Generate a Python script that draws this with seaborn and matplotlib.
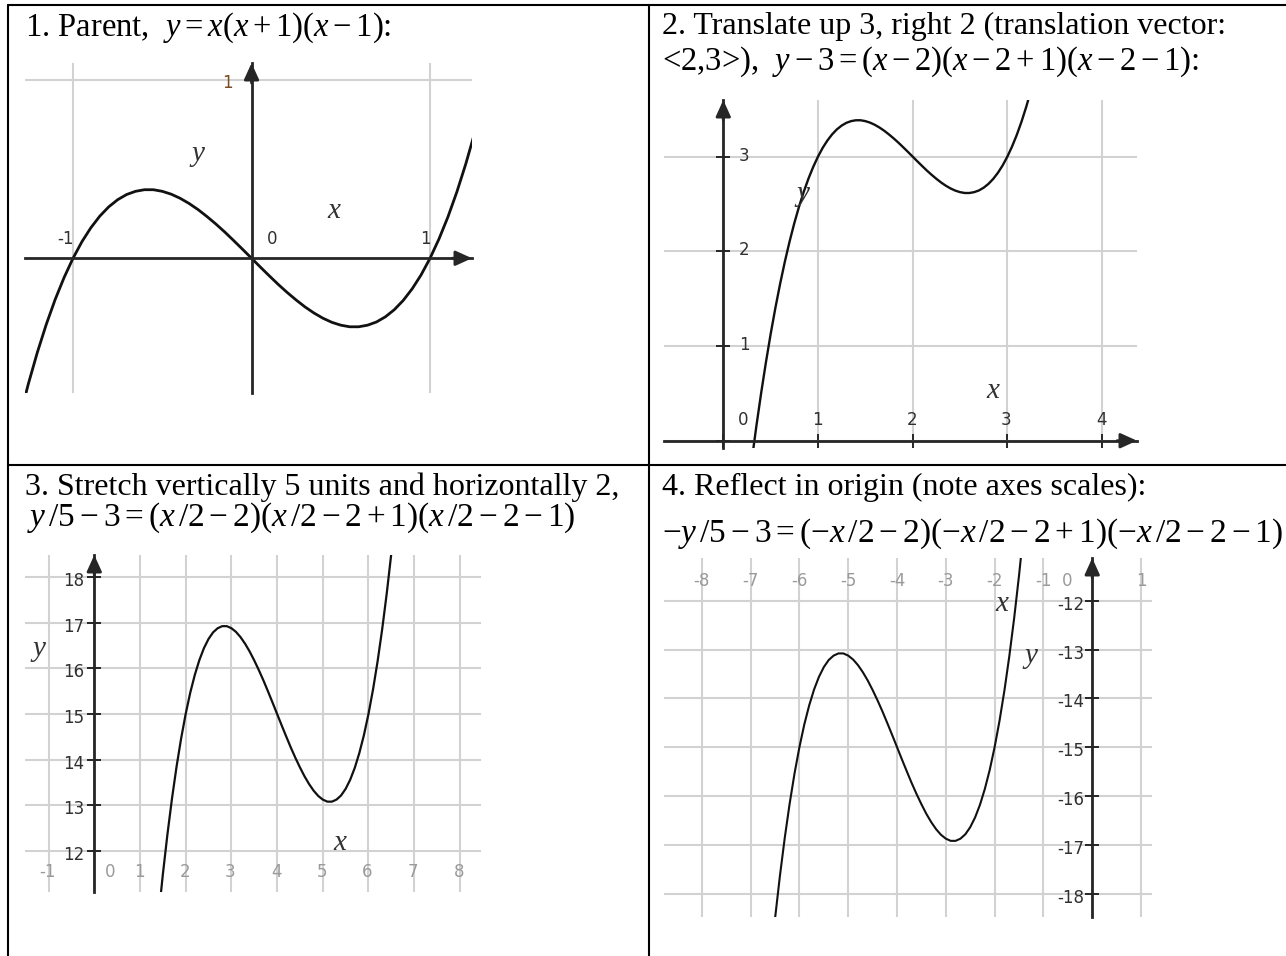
import matplotlib
matplotlib.use("Agg")
import matplotlib.pyplot as plt
import matplotlib.transforms as mtransforms
from matplotlib.lines import Line2D
import seaborn as sns

W, H = 1286, 956

# ---- values ----
# 1. parent cubic
p1_x = [-1.3, -1.25, -1.2, -1.15, -1.1, -1.05, -1.0, -0.95, -0.9, -0.85, -0.8, -0.75, -0.7,
        -0.65, -0.6, -0.55, -0.5, -0.45, -0.4, -0.35, -0.3, -0.25, -0.2, -0.15, -0.1, -0.05,
        0.0, 0.05, 0.1, 0.15, 0.2, 0.25, 0.3, 0.35, 0.4, 0.45, 0.5, 0.55, 0.6, 0.65, 0.7,
        0.75, 0.8, 0.85, 0.9, 0.95, 1.0, 1.05, 1.1, 1.15, 1.2, 1.25, 1.3]
p1_y = [-0.897, -0.703, -0.528, -0.371, -0.231, -0.108, 0.0, 0.093, 0.171, 0.236, 0.288, 0.328,
        0.357, 0.375, 0.384, 0.384, 0.375, 0.359, 0.336, 0.307, 0.273, 0.234, 0.192, 0.147, 0.099,
        0.050, 0.0, -0.050, -0.099, -0.147, -0.192, -0.234, -0.273, -0.307, -0.336, -0.359, -0.375,
        -0.384, -0.384, -0.375, -0.357, -0.328, -0.288, -0.236, -0.171, -0.093, 0.0, 0.108, 0.231,
        0.371, 0.528, 0.703, 0.897]

# 2. translated
p2_x = [0.3, 0.35, 0.4, 0.45, 0.5, 0.55, 0.6, 0.65, 0.7, 0.75, 0.8, 0.85, 0.9, 0.95, 1.0,
        1.05, 1.1, 1.15, 1.2, 1.25, 1.3, 1.35, 1.4, 1.45, 1.5, 1.55, 1.6, 1.65, 1.7, 1.75, 1.8,
        1.85, 1.9, 1.95, 2.0, 2.05, 2.1, 2.15, 2.2, 2.25, 2.3, 2.35, 2.4, 2.45, 2.5, 2.55, 2.6,
        2.65, 2.7, 2.75, 2.8, 2.85, 2.9, 2.95, 3.0, 3.05, 3.1, 3.15, 3.2, 3.25, 3.3]
p2_y = [-0.213, 0.158, 0.504, 0.826, 1.125, 1.401, 1.656, 1.890, 2.103, 2.297, 2.472, 2.629,
        2.769, 2.892, 3.0, 3.093, 3.171, 3.236, 3.288, 3.328, 3.357, 3.375, 3.384, 3.384, 3.375,
        3.359, 3.336, 3.307, 3.273, 3.234, 3.192, 3.147, 3.099, 3.050, 3.0, 2.950, 2.901, 2.853,
        2.808, 2.766, 2.727, 2.693, 2.664, 2.641, 2.625, 2.616, 2.616, 2.625, 2.643, 2.672, 2.712,
        2.764, 2.829, 2.907, 3.0, 3.108, 3.231, 3.371, 3.528, 3.703, 3.897]

# 3. stretched
p3_x = [1.2, 1.3, 1.4, 1.5, 1.6, 1.7, 1.8, 1.9, 2.0, 2.1, 2.2, 2.3, 2.4, 2.5, 2.6, 2.7, 2.8,
        2.9, 3.0, 3.1, 3.2, 3.3, 3.4, 3.5, 3.6, 3.7, 3.8, 3.9, 4.0, 4.1, 4.2, 4.3, 4.4, 4.5, 4.6,
        4.7, 4.8, 4.9, 5.0, 5.1, 5.2, 5.3, 5.4, 5.5, 5.6, 5.7, 5.8, 5.9, 6.0, 6.1, 6.2, 6.3, 6.4,
        6.5, 6.6]
p3_y = [8.28, 9.45, 10.515, 11.485, 12.36, 13.145, 13.845, 14.462, 15.0, 15.465, 15.855, 16.18,
        16.44, 16.64, 16.785, 16.875, 16.92, 16.92, 16.875, 16.795, 16.68, 16.535, 16.365, 16.17,
        15.96, 15.735, 15.495, 15.25, 15.0, 14.75, 14.505, 14.265, 14.04, 13.83, 13.635, 13.465,
        13.32, 13.205, 13.125, 13.08, 13.08, 13.125, 13.215, 13.36, 13.56, 13.82, 14.145, 14.535,
        15.0, 15.538, 16.155, 16.855, 17.64, 18.515, 19.485]

# 4. reflected in origin
p4_x = [-1.2, -1.3, -1.4, -1.5, -1.6, -1.7, -1.8, -1.9, -2.0, -2.1, -2.2, -2.3, -2.4, -2.5,
        -2.6, -2.7, -2.8, -2.9, -3.0, -3.1, -3.2, -3.3, -3.4, -3.5, -3.6, -3.7, -3.8, -3.9, -4.0,
        -4.1, -4.2, -4.3, -4.4, -4.5, -4.6, -4.7, -4.8, -4.9, -5.0, -5.1, -5.2, -5.3, -5.4, -5.5,
        -5.6, -5.7, -5.8, -5.9, -6.0, -6.1, -6.2, -6.3, -6.4, -6.5, -6.6]
p4_y = [-8.28, -9.45, -10.515, -11.485, -12.36, -13.145, -13.845, -14.462, -15.0, -15.465,
        -15.855, -16.18, -16.44, -16.64, -16.785, -16.875, -16.92, -16.92, -16.875, -16.795,
        -16.68, -16.535, -16.365, -16.17, -15.96, -15.735, -15.495, -15.25, -15.0, -14.75,
        -14.505, -14.265, -14.04, -13.83, -13.635, -13.465, -13.32, -13.205, -13.125, -13.08,
        -13.08, -13.125, -13.215, -13.36, -13.56, -13.82, -14.145, -14.535, -15.0, -15.538,
        -16.155, -16.855, -17.64, -18.515, -19.485]

# grid / tick values and their labels
p1_xgrid, p1_ygrid = [-1, 1], [1]
p1_xticks, p1_xlabels = [-1, 1], ["-1", "1"]
p1_yticks, p1_ylabels = [1], ["1"]

p2_xgrid, p2_ygrid = [0, 1, 2, 3, 4], [0, 1, 2, 3]
p2_xticks, p2_xlabels = [1, 2, 3, 4], ["1", "2", "3", "4"]
p2_yticks, p2_ylabels = [1, 2, 3], ["1", "2", "3"]

p3_xgrid, p3_ygrid = [-1, 0, 1, 2, 3, 4, 5, 6, 7, 8], [12, 13, 14, 15, 16, 17, 18]
p3_xticks, p3_xlabels = [-1, 1, 2, 3, 4, 5, 6, 7, 8], ["-1", "1", "2", "3", "4", "5", "6", "7", "8"]
p3_yticks, p3_ylabels = [12, 13, 14, 15, 16, 17, 18], ["12", "13", "14", "15", "16", "17", "18"]

p4_xgrid, p4_ygrid = [-8, -7, -6, -5, -4, -3, -2, -1, 0, 1], [-18, -17, -16, -15, -14, -13, -12]
p4_xticks, p4_xlabels = [-8, -7, -6, -5, -4, -3, -2, -1, 1], ["-8", "-7", "-6", "-5", "-4", "-3", "-2", "-1", "1"]
p4_yticks, p4_ylabels = [-18, -17, -16, -15, -14, -13, -12], ["-18", "-17", "-16", "-15", "-14", "-13", "-12"]

# ---- style ----
sns.set_style("white")
plt.rcParams["font.family"] = ["Liberation Serif", "DejaVu Serif"]
plt.rcParams["mathtext.fontset"] = "custom"
plt.rcParams["mathtext.rm"] = "Liberation Serif"
plt.rcParams["mathtext.it"] = "Liberation Serif:italic"

GRID = "#d2d2d2"
AXIS = "#262626"
DARK = "#303030"
LIGHT = "#9a9a9a"
TICK_FONT = dict(family="DejaVu Sans", fontsize=12)

fig = plt.figure(figsize=(W / 100, H / 100), dpi=100)


def add_panel(box, xlim, ylim):
    # box = left, top, right, bottom in pixels
    l, t, r, b = box
    ax = fig.add_axes([l / W, 1 - b / H, (r - l) / W, (b - t) / H])
    ax.set_xlim(xlim)
    ax.set_ylim(ylim)
    ax.patch.set_alpha(0)
    return ax


def style_axes(ax, xgrid, ygrid, show_x, tick_len):
    ax.set_xticks(xgrid)
    ax.set_yticks(ygrid)
    ax.grid(True, color=GRID, lw=1.5)
    ax.set_axisbelow(True)
    for side in ["top", "right"]:
        ax.spines[side].set_visible(False)
    for side in ["left", "bottom"]:
        ax.spines[side].set_position(("data", 0))
        ax.spines[side].set_color(AXIS)
        ax.spines[side].set_linewidth(2.0)
    ax.spines["bottom"].set_visible(show_x)
    ax.tick_params(direction="inout", length=tick_len, width=1.4, color=AXIS,
                   bottom=show_x, left=True, labelleft=False, labelbottom=False)
    # arrow heads
    arrow = dict(arrowstyle="-|>,head_length=0.55,head_width=0.25", mutation_scale=18,
                 color=AXIS, lw=2.0, shrinkA=0, shrinkB=0)
    ax.annotate("", xy=(0, 1), xycoords=ax.get_xaxis_transform(), xytext=(0, -20),
                textcoords="offset pixels", arrowprops=arrow, annotation_clip=False)
    if show_x:
        ax.annotate("", xy=(1, 0), xycoords=ax.get_yaxis_transform(), xytext=(-20, 0),
                    textcoords="offset pixels", arrowprops=arrow, annotation_clip=False)


def tick_text(ax, xs, ys, labels, dx, dy, ha="center", color=DARK):
    tr = mtransforms.offset_copy(ax.transData, fig=fig, x=dx, y=-dy, units="dots")
    for x, y, s in zip(xs, ys, labels):
        ax.text(x, y, s, transform=tr, ha=ha, va="center", color=color, clip_on=False, **TICK_FONT)


def curve(ax, xs, ys, lw):
    sns.lineplot(x=xs, y=ys, ax=ax, color="#111111", lw=lw, sort=False, estimator=None)
    ax.set_xlabel("")
    ax.set_ylabel("")


def axis_letters(ax, box, xpos, ypos):
    # stray "x" / "y" labels, positions in pixels
    l, t, r, b = box
    for s, (px, py) in [("x", xpos), ("y", ypos)]:
        ax.text((px - l) / (r - l), (b - py) / (b - t), s, transform=ax.transAxes,
                style="italic", fontsize=21, color="#333333", ha="center", va="center")


# ---- panel 1 ----
box1 = (25, 63, 472, 393)
ax1 = add_panel(box1, (-1.269, 1.235), (-0.755, 1.094))
style_axes(ax1, p1_xgrid, p1_ygrid, True, 0)
curve(ax1, p1_x, p1_y, 2.0)
tick_text(ax1, [0] * len(p1_yticks), p1_yticks, p1_ylabels, -24, 3, color="#7a4a22")
tick_text(ax1, p1_xticks, [0] * len(p1_xticks), p1_xlabels, 1, -19, ha="right")
tick_text(ax1, [0], [0], ["0"], 15, -19, ha="left")
axis_letters(ax1, box1, (334, 211), (198, 154))

# ---- panel 2 ----
box2 = (664, 100, 1137, 448)
ax2 = add_panel(box2, (-0.626, 4.369), (-0.077, 3.598))
style_axes(ax2, p2_xgrid, p2_ygrid, True, 10)
curve(ax2, p2_x, p2_y, 1.7)
tick_text(ax2, [0] * len(p2_yticks), p2_yticks, p2_ylabels, 21, -1)
tick_text(ax2, p2_xticks, [0] * len(p2_xticks), p2_xlabels, -1, -21)
tick_text(ax2, [0], [0], ["0"], 20, -21)
axis_letters(ax2, box2, (993, 391), (803, 194))

# ---- panel 3 ----
box3 = (25, 555, 481, 892)
ax3 = add_panel(box3, (-1.516, 8.462), (11.103, 18.477))
style_axes(ax3, p3_xgrid, p3_ygrid, False, 10)
curve(ax3, p3_x, p3_y, 1.6)
tick_text(ax3, [0] * len(p3_yticks), p3_yticks, p3_ylabels, -10, 4, ha="right")
tick_text(ax3, p3_xticks, [12] * len(p3_xticks), p3_xlabels, -1, 21, color=LIGHT)
tick_text(ax3, [0], [12], ["0"], 16, 21, color=LIGHT)
axis_letters(ax3, box3, (340, 843), (39, 649))

# ---- panel 4 ----
box4 = (664, 558, 1152, 917)
ax4 = add_panel(box4, (-8.775, 1.225), (-18.48, -11.125))
style_axes(ax4, p4_xgrid, p4_ygrid, False, 10)
curve(ax4, p4_x, p4_y, 1.5)
tick_text(ax4, [0] * len(p4_yticks), p4_yticks, p4_ylabels, -8, 4, ha="right")
tick_text(ax4, p4_xticks, [-12] * len(p4_xticks), p4_xlabels, 0, -20, color=LIGHT)
tick_text(ax4, [0], [-12], ["0"], -25, -20, color=LIGHT)
axis_letters(ax4, box4, (1002, 604), (1031, 656))


# ---- headings ----
def heading(x, y, s, size=23):
    fig.text(x / W, 1 - y / H, s, fontsize=size, va="baseline", ha="left", color="black")


heading(25, 36, r"1. Parent,  $y = x(x+1)(x-1)$:", 23.5)
heading(662, 34, "2. Translate up 3, right 2 (translation vector:")
heading(662, 70, r"<2,3>),  $y-3=(x-2)(x-2+1)(x-2-1)$:", 23.5)
heading(25, 495, "3. Stretch vertically 5 units and horizontally 2,")
heading(27, 526, r"$y\,/5-3=(x\,/2-2)(x\,/2-2+1)(x\,/2-2-1)$", 24)
heading(662, 495, "4. Reflect in origin (note axes scales):")
heading(662, 542, r"$-y\,/5-3=(-x\,/2-2)(-x\,/2-2+1)(-x\,/2-2-1)$", 24)


# ---- table rules ----
def rule(x0, y0, x1, y1):
    fig.add_artist(Line2D([x0 / W, x1 / W], [1 - y0 / H, 1 - y1 / H], color="black", lw=1.5))


rule(7.5, 5, W, 5)
rule(7.5, 5, 7.5, H)
rule(649, 5, 649, H)
rule(7.5, 465.5, W, 465.5)

fig.savefig("out.png", dpi=100)
